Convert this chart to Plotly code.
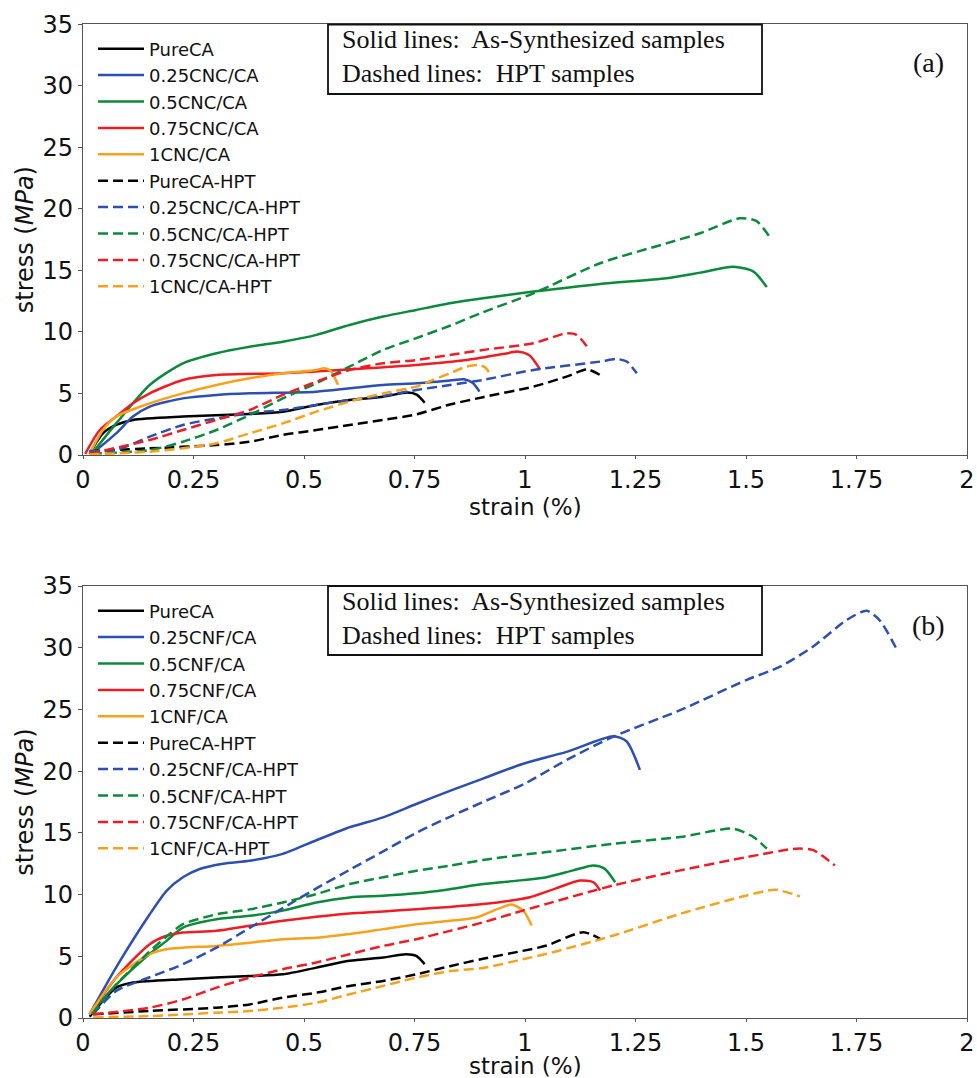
import plotly.graph_objects as go

# ---------------- data: panel (a) CNC ----------------
A_PURE_X = [0.015, 0.045, 0.075, 0.113, 0.226, 0.377, 0.452, 0.528, 0.603, 0.679, 0.735, 0.755, 0.773]
A_PURE_Y = [0.1, 1.76, 2.44, 2.85, 3.12, 3.33, 3.52, 4.07, 4.47, 4.74, 5.08, 4.9, 4.25]
A_025_X = [0.02, 0.075, 0.113, 0.151, 0.226, 0.302, 0.377, 0.528, 0.603, 0.679, 0.754, 0.83, 0.862, 0.882, 0.897]
A_025_Y = [0.1, 1.76, 3.12, 3.93, 4.6, 4.88, 5.01, 5.15, 5.42, 5.69, 5.83, 6.05, 6.15, 5.85, 5.15]
A_05_X = [0.02, 0.075, 0.151, 0.226, 0.302, 0.377, 0.452, 0.528, 0.603, 0.679, 0.754, 0.83, 0.905, 1.019, 1.17, 1.32, 1.396, 1.471, 1.517, 1.547]
A_05_Y = [0.1, 2.57, 5.69, 7.45, 8.27, 8.8, 9.2, 9.76, 10.57, 11.25, 11.79, 12.33, 12.74, 13.28, 13.9, 14.36, 14.82, 15.3, 14.9, 13.65]
A_075_X = [0.005, 0.038, 0.075, 0.113, 0.151, 0.226, 0.302, 0.452, 0.603, 0.754, 0.868, 0.95, 0.985, 1.01, 1.034]
A_075_Y = [0.1, 2.03, 3.12, 4.2, 5.01, 6.1, 6.5, 6.64, 6.96, 7.32, 7.72, 8.2, 8.4, 8.1, 6.95]
A_1_X = [0.015, 0.045, 0.075, 0.151, 0.226, 0.302, 0.377, 0.452, 0.528, 0.545, 0.56, 0.577]
A_1_Y = [0.1, 2.03, 3.12, 4.2, 5.01, 5.69, 6.23, 6.64, 6.91, 7.05, 6.85, 5.7]
A_PURE_H_X = [0.015, 0.151, 0.302, 0.377, 0.452, 0.528, 0.603, 0.679, 0.754, 0.83, 0.905, 1.019, 1.094, 1.14, 1.17]
A_PURE_H_Y = [0.3, 0.54, 0.81, 1.08, 1.63, 2.03, 2.44, 2.85, 3.3, 4.1, 4.7, 5.56, 6.37, 6.96, 6.5]
A_025_H_X = [0.015, 0.075, 0.151, 0.226, 0.302, 0.377, 0.452, 0.528, 0.603, 0.679, 0.754, 0.83, 0.905, 1.019, 1.17, 1.207, 1.23, 1.253]
A_025_H_Y = [0.3, 0.4, 1.49, 2.44, 2.98, 3.39, 3.66, 4.07, 4.47, 4.8, 5.28, 5.69, 6.1, 6.91, 7.59, 7.8, 7.6, 6.64]
A_05_H_X = [0.02, 0.151, 0.226, 0.302, 0.377, 0.452, 0.528, 0.603, 0.679, 0.754, 0.83, 0.905, 1.019, 1.17, 1.32, 1.396, 1.486, 1.524, 1.558]
A_05_H_Y = [0.1, 0.4, 1.08, 2.03, 3.25, 4.6, 5.83, 7.18, 8.54, 9.5, 10.5, 11.6, 13.14, 15.58, 17.2, 18.02, 19.24, 19.0, 17.48]
A_075_H_X = [0.015, 0.151, 0.226, 0.302, 0.377, 0.452, 0.528, 0.603, 0.679, 0.754, 0.83, 0.905, 1.019, 1.094, 1.117, 1.143]
A_075_H_Y = [0.1, 1.22, 2.03, 2.85, 3.66, 4.88, 5.96, 6.91, 7.45, 7.72, 8.13, 8.54, 9.08, 9.89, 9.76, 8.67]
A_1_H_X = [0.015, 0.151, 0.226, 0.302, 0.377, 0.452, 0.528, 0.603, 0.679, 0.754, 0.792, 0.83, 0.867, 0.897, 0.912, 0.924]
A_1_H_Y = [0.05, 0.27, 0.54, 0.95, 1.76, 2.57, 3.52, 4.34, 5.01, 5.56, 6.1, 6.64, 7.18, 7.32, 7.05, 6.37]

# ---------------- data: panel (b) CNF ----------------
B_PURE_X = [0.015, 0.045, 0.075, 0.113, 0.226, 0.377, 0.452, 0.528, 0.603, 0.679, 0.731, 0.754, 0.773]
B_PURE_Y = [0.1, 1.38, 2.46, 2.87, 3.14, 3.4, 3.54, 4.08, 4.63, 4.9, 5.17, 5.03, 4.36]
B_025_X = [0.015, 0.075, 0.151, 0.189, 0.226, 0.264, 0.317, 0.377, 0.452, 0.528, 0.603, 0.679, 0.754, 0.83, 0.905, 0.996, 1.094, 1.2, 1.23, 1.26]
B_025_Y = [0.3, 4.1, 8.4, 10.3, 11.4, 12.07, 12.5, 12.74, 13.3, 14.4, 15.45, 16.26, 17.34, 18.4, 19.4, 20.6, 21.56, 22.83, 22.4, 20.1]
B_05_X = [0.015, 0.075, 0.151, 0.189, 0.226, 0.302, 0.377, 0.452, 0.528, 0.603, 0.679, 0.754, 0.83, 0.905, 0.995, 1.049, 1.109, 1.155, 1.18, 1.204]
B_05_Y = [0.3, 2.7, 5.2, 6.25, 7.33, 8.0, 8.28, 8.7, 9.36, 9.77, 9.9, 10.1, 10.44, 10.85, 11.17, 11.41, 11.96, 12.36, 12.1, 11.0]
B_075_X = [0.015, 0.075, 0.151, 0.189, 0.226, 0.302, 0.377, 0.452, 0.528, 0.603, 0.679, 0.754, 0.83, 0.905, 1.011, 1.07, 1.124, 1.155, 1.17]
B_075_Y = [0.3, 3.27, 5.98, 6.66, 6.93, 7.06, 7.47, 7.87, 8.2, 8.47, 8.63, 8.82, 9.0, 9.23, 9.79, 10.5, 11.14, 11.0, 10.33]
B_1_X = [0.015, 0.075, 0.151, 0.189, 0.226, 0.302, 0.377, 0.452, 0.528, 0.603, 0.679, 0.754, 0.83, 0.89, 0.943, 0.97, 0.996, 1.015]
B_1_Y = [0.3, 3.27, 5.17, 5.57, 5.7, 5.84, 6.1, 6.38, 6.5, 6.8, 7.2, 7.6, 7.87, 8.14, 8.9, 9.2, 8.7, 7.5]
B_PURE_H_X = [0.023, 0.151, 0.302, 0.377, 0.452, 0.528, 0.603, 0.679, 0.754, 0.83, 0.905, 0.995, 1.049, 1.132, 1.17]
B_PURE_H_Y = [0.3, 0.57, 0.84, 1.1, 1.65, 2.05, 2.6, 3.0, 3.54, 4.2, 4.8, 5.44, 5.87, 6.95, 6.41]
B_025_H_X = [0.023, 0.075, 0.151, 0.226, 0.302, 0.377, 0.452, 0.528, 0.603, 0.679, 0.754, 0.83, 0.905, 1.0, 1.094, 1.2, 1.351, 1.502, 1.577, 1.652, 1.728, 1.773, 1.803, 1.841]
B_025_H_Y = [0.3, 2.2, 3.3, 4.36, 5.7, 7.3, 8.9, 10.5, 12.0, 13.5, 15.0, 16.3, 17.5, 19.0, 20.9, 22.8, 24.94, 27.4, 28.46, 30.1, 32.25, 33.0, 32.2, 29.87]
B_05_H_X = [0.02, 0.075, 0.151, 0.196, 0.226, 0.302, 0.377, 0.452, 0.528, 0.603, 0.679, 0.754, 0.83, 0.905, 0.995, 1.049, 1.2, 1.351, 1.471, 1.517, 1.547]
B_05_H_Y = [0.3, 2.7, 5.4, 6.8, 7.6, 8.4, 8.8, 9.36, 10.04, 10.85, 11.4, 11.93, 12.34, 12.8, 13.23, 13.44, 14.12, 14.66, 15.34, 14.66, 13.72]
B_075_H_X = [0.023, 0.151, 0.226, 0.302, 0.377, 0.452, 0.528, 0.603, 0.679, 0.754, 0.83, 0.905, 0.995, 1.049, 1.2, 1.351, 1.502, 1.614, 1.652, 1.701]
B_075_H_Y = [0.3, 0.84, 1.5, 2.46, 3.27, 3.95, 4.5, 5.17, 5.84, 6.38, 7.06, 7.75, 8.7, 9.25, 10.74, 11.96, 13.04, 13.72, 13.6, 12.36]
B_1_H_X = [0.023, 0.151, 0.302, 0.377, 0.452, 0.528, 0.603, 0.679, 0.754, 0.83, 0.905, 0.995, 1.049, 1.2, 1.351, 1.502, 1.566, 1.622]
B_1_H_Y = [0.05, 0.16, 0.43, 0.57, 0.84, 1.24, 1.92, 2.6, 3.27, 3.8, 4.05, 4.76, 5.2, 6.68, 8.44, 9.93, 10.39, 9.85]

X_TICKS = [0, 0.25, 0.5, 0.75, 1, 1.25, 1.5, 1.75, 2]
X_TICK_TEXT = ["0", "0.25", "0.5", "0.75", "1", "1.25", "1.5", "1.75", "2"]
Y_TICKS = [0, 5, 10, 15, 20, 25, 30, 35]

COLORS = ["#000000", "#2c50b2", "#0c8a3c", "#ee1d23", "#f8a11b"]
NAMES_A = ["PureCA", "0.25CNC/CA", "0.5CNC/CA", "0.75CNC/CA", "1CNC/CA"]
NAMES_B = ["PureCA", "0.25CNF/CA", "0.5CNF/CA", "0.75CNF/CA", "1CNF/CA"]

SOLID_A = [(A_PURE_X, A_PURE_Y), (A_025_X, A_025_Y), (A_05_X, A_05_Y), (A_075_X, A_075_Y), (A_1_X, A_1_Y)]
DASH_A = [(A_PURE_H_X, A_PURE_H_Y), (A_025_H_X, A_025_H_Y), (A_05_H_X, A_05_H_Y), (A_075_H_X, A_075_H_Y), (A_1_H_X, A_1_H_Y)]
SOLID_B = [(B_PURE_X, B_PURE_Y), (B_025_X, B_025_Y), (B_05_X, B_05_Y), (B_075_X, B_075_Y), (B_1_X, B_1_Y)]
DASH_B = [(B_PURE_H_X, B_PURE_H_Y), (B_025_H_X, B_025_H_Y), (B_05_H_X, B_05_H_Y), (B_075_H_X, B_075_H_Y), (B_1_H_X, B_1_H_Y)]

W, H = 977, 1078
ML, MR, MT, MB = 83, 10, 24, 60
PW, PH = W - ML - MR, H - MT - MB


def py2p(py):
    return min(1.0, max(0.0, (H - MB - py) / PH))


def py2p_free(py):
    return (H - MB - py) / PH


def px2p(px):
    return (px - ML) / PW


fig = go.Figure()
LW = 2.5
DASH = "10px,5px"


def add_panel(solids, dashes, names, xa, ya, leg):
    for (xs, ys), c, n in zip(solids, COLORS, names):
        fig.add_trace(go.Scatter(x=xs, y=ys, mode="lines", name=n, xaxis=xa, yaxis=ya,
                                 line=dict(color=c, width=LW, shape="spline", smoothing=0.7),
                                 legend=leg))
    for (xs, ys), c, n in zip(dashes, COLORS, names):
        fig.add_trace(go.Scatter(x=xs, y=ys, mode="lines", name=n + "-HPT", xaxis=xa, yaxis=ya,
                                 line=dict(color=c, width=LW, dash=DASH, shape="spline", smoothing=0.7),
                                 legend=leg))


add_panel(SOLID_A, DASH_A, NAMES_A, "x", "y", "legend")
add_panel(SOLID_B, DASH_B, NAMES_B, "x2", "y2", "legend2")

TICKFONT = dict(family="DejaVu Sans", size=24, color="#111")
TITLEFONT = dict(family="DejaVu Sans", size=24, color="#111")

xcommon = dict(range=[0, 2], tickvals=X_TICKS, ticktext=X_TICK_TEXT, showgrid=False, zeroline=False,
               showline=True, linecolor="#555", linewidth=1.2, mirror=True, ticks="outside", ticklen=3,
               tickcolor="#555", tickfont=TICKFONT, automargin=False)
ycommon = dict(range=[0, 35], tickvals=Y_TICKS, showgrid=False, zeroline=False,
               showline=True, linecolor="#555", linewidth=1.2, mirror=True, ticks="outside", ticklen=4,
               tickcolor="#555", tickfont=TICKFONT, automargin=False)

top_dom = [py2p(455), py2p(24.3)]
bot_dom = [py2p(1018), py2p(586)]

legcommon = dict(xanchor="left", yanchor="top", bgcolor="rgba(0,0,0,0)", borderwidth=0,
                 font=dict(family="DejaVu Sans", size=18, color="#111"), itemwidth=46,
                 tracegroupgap=0)

fig.update_layout(
    width=W, height=H, margin=dict(l=ML, r=MR, t=MT, b=MB, autoexpand=False),
    paper_bgcolor="white", plot_bgcolor="white",
    xaxis=dict(xcommon, anchor="y", domain=[0, 1]),
    yaxis=dict(ycommon, anchor="x", domain=top_dom,
               title=dict(text="stress (<i>MPa</i>)", font=TITLEFONT, standoff=2)),
    xaxis2=dict(xcommon, anchor="y2", domain=[0, 1]),
    yaxis2=dict(ycommon, anchor="x2", domain=bot_dom,
                title=dict(text="stress (<i>MPa</i>)", font=TITLEFONT, standoff=2)),
    legend=dict(legcommon, x=px2p(93), y=py2p(30.5)),
    legend2=dict(legcommon, x=px2p(93), y=py2p(592.5)),
    showlegend=True,
)

# x-axis titles, placed just below each panel's tick labels
X_TITLE = "strain (%)"
for ty in (507, 1066):
    fig.add_annotation(xref="paper", yref="paper", x=px2p(525), y=py2p_free(ty), xanchor="center",
                       yanchor="middle", text=X_TITLE, showarrow=False,
                       font=dict(family="DejaVu Sans", size=23, color="#111"))

SERIF = dict(family="Liberation Serif", size=26, color="#111")
BOXES = [
    (24.5, 94, 39.5, 73.3, "(a)", 62),
    (586, 655, 601.7, 635, "(b)", 625),
]
for (bt, bb, l1, l2, lab, laby) in BOXES:
    fig.add_shape(type="rect", xref="paper", yref="paper", x0=px2p(328), x1=px2p(762),
                  y0=py2p(bb), y1=py2p(bt), line=dict(color="#111", width=1.8), fillcolor="white",
                  layer="above")
    fig.add_annotation(xref="paper", yref="paper", x=px2p(340), y=py2p(l1), xanchor="left", yanchor="middle",
                       text="Solid lines:&nbsp; As-Synthesized samples", showarrow=False, font=SERIF)
    fig.add_annotation(xref="paper", yref="paper", x=px2p(340), y=py2p(l2), xanchor="left", yanchor="middle",
                       text="Dashed lines:&nbsp; HPT samples", showarrow=False, font=SERIF)
    fig.add_annotation(xref="paper", yref="paper", x=px2p(928), y=py2p(laby), xanchor="center", yanchor="middle",
                       text=lab, showarrow=False, font=dict(family="Liberation Serif", size=28, color="#111"))

fig.write_html("out.html")
